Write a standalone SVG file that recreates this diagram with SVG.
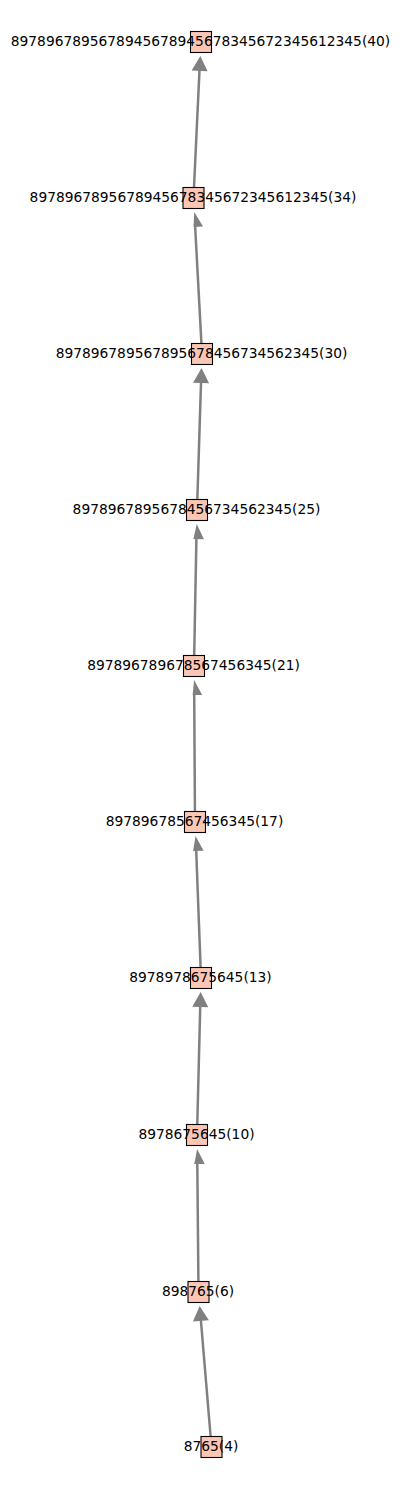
<svg xmlns="http://www.w3.org/2000/svg" width="401" height="1490" viewBox="0 0 401 1490">
<style>
.e{stroke:#808080;stroke-width:2.5;fill:none}
.h{fill:#808080;stroke:none}
.n rect{fill:#fcc6b5;stroke:#000;stroke-width:1.1}
.n text{font-family:"DejaVu Sans",sans-serif;font-size:13.8px;fill:#000;text-anchor:middle}
</style>
<rect width="401" height="1490" fill="#fff"/>
<g id="connectors">
<line class="e" x1="193.5" y1="198" x2="199.6" y2="68"/>
<polygon class="h" points="200.33,55.98 207.6,71.34 191.62,70.58"/>
<line class="e" x1="202" y1="354" x2="195" y2="224"/>
<polygon class="h" points="194.26,211.98 203.07,226.52 193.58,227.04"/>
<line class="e" x1="197" y1="510" x2="201.1" y2="380"/>
<polygon class="h" points="201.55,367.99 209.07,383.24 193.07,382.72"/>
<line class="e" x1="194" y1="666" x2="196.45" y2="536"/>
<polygon class="h" points="196.73,523.99 203.94,539.13 193.44,538.93"/>
<line class="e" x1="195" y1="822" x2="194.19" y2="692"/>
<polygon class="h" points="194.09,679.99 202.19,694.94 192.69,695"/>
<line class="e" x1="201" y1="978" x2="196.1" y2="848"/>
<polygon class="h" points="195.54,835.99 203.61,850.69 193.12,851.1"/>
<line class="e" x1="197" y1="1135" x2="200.3" y2="1004"/>
<polygon class="h" points="200.64,991.99 208.26,1007.18 192.26,1006.78"/>
<line class="e" x1="198.5" y1="1292" x2="197.28" y2="1161"/>
<polygon class="h" points="197.13,1148.99 204.78,1163.92 194.28,1164.02"/>
<line class="e" x1="211.5" y1="1447" x2="200.7" y2="1318"/>
<polygon class="h" points="199.67,1305.95 208.89,1320.23 192.95,1321.57"/>
</g>
<g id="n40" class="n"><rect x="190.5" y="31.5" width="21" height="21"/><text x="200.5" y="46">8978967895678945678945678345672345612345(40)</text></g>
<g id="n34" class="n"><rect x="183" y="187.5" width="21" height="21"/><text x="193" y="202">8978967895678945678345672345612345(34)</text></g>
<g id="n30" class="n"><rect x="191.5" y="343.5" width="21" height="21"/><text x="201.5" y="358">897896789567895678456734562345(30)</text></g>
<g id="n25" class="n"><rect x="186.5" y="499.5" width="21" height="21"/><text x="196.5" y="514">8978967895678456734562345(25)</text></g>
<g id="n21" class="n"><rect x="183.5" y="655.5" width="21" height="21"/><text x="193.5" y="670">897896789678567456345(21)</text></g>
<g id="n17" class="n"><rect x="184.5" y="811.5" width="21" height="21"/><text x="194.5" y="826">89789678567456345(17)</text></g>
<g id="n13" class="n"><rect x="190.5" y="967.5" width="21" height="21"/><text x="200.5" y="982">8978978675645(13)</text></g>
<g id="n10" class="n"><rect x="186.5" y="1124.5" width="21" height="21"/><text x="196.5" y="1139">8978675645(10)</text></g>
<g id="n6" class="n"><rect x="188" y="1281.5" width="21" height="21"/><text x="198" y="1296">898765(6)</text></g>
<g id="n4" class="n"><rect x="201" y="1436.5" width="21" height="21"/><text x="211" y="1451">8765(4)</text></g>
</svg>
